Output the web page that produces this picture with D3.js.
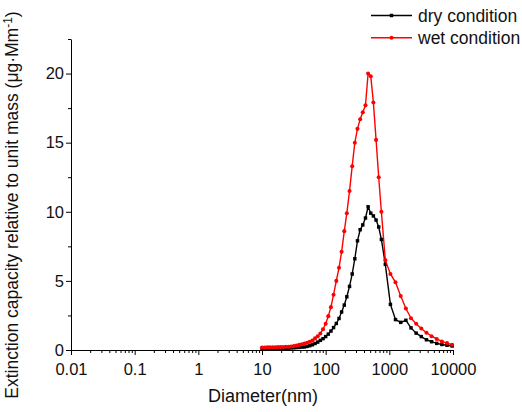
<!DOCTYPE html>
<html>
<head>
<meta charset="utf-8">
<script src="https://cdn.jsdelivr.net/npm/d3@7"></script>
<style>
  body { margin: 0; background: #fff; }
  svg { display: block; font-family: "Liberation Sans", Arial, sans-serif; }
</style>
</head>
<body>
<svg width="522" height="412"></svg>
<script>
// diameters (nm): SMPS channels then APS channels
const diameters = [10.0, 11.0, 12.1, 13.3, 14.7, 16.2, 17.8, 19.6, 21.5, 23.7,
  26.1, 28.7, 31.6, 34.8, 38.3, 42.2, 46.4, 51.1, 56.2, 61.9,
  68.1, 75.0, 82.5, 90.9, 100, 110, 121, 133, 147, 162,
  178, 196, 215, 237, 261, 287, 316, 348, 383, 422,
  464, 511, 562, 619, 681, 750,
  865, 1040, 1250, 1510, 1820, 2190, 2640, 3180, 3830, 4610, 5550, 6690, 8050, 9700];

const dryValues = [0.05, 0.05, 0.06, 0.06, 0.07, 0.08, 0.09, 0.10, 0.11, 0.12,
  0.13, 0.15, 0.16, 0.18, 0.19, 0.21, 0.22, 0.26, 0.31, 0.38,
  0.47, 0.57, 0.70, 0.82, 0.97, 1.15, 1.37, 1.62, 1.92, 2.28,
  2.75, 3.25, 3.85, 4.6, 5.5, 6.6, 7.9, 8.7, 9.05, 9.55,
  10.36, 9.9, 9.7, 9.4, 8.9, 8.0,
  6.2, 3.3, 2.2, 2.0, 2.15, 1.6, 1.22, 0.97, 0.74, 0.6, 0.48, 0.4, 0.34, 0.29];

const wetValues = [0.18, 0.18, 0.19, 0.19, 0.20, 0.20, 0.21, 0.21, 0.22, 0.23,
  0.24, 0.25, 0.28, 0.33, 0.37, 0.41, 0.46, 0.52, 0.59, 0.68,
  0.84, 1.0, 1.2, 1.5, 1.9, 2.45, 3.1, 4.0, 5.0, 5.95,
  7.1, 8.6, 9.9, 11.5, 13.3, 15.0, 16.0, 16.7, 17.2, 17.7,
  20.0, 19.8, 17.9, 15.2, 12.5, 10.0,
  6.5, 5.5, 4.9, 3.9, 3.0, 2.3, 1.9, 1.55, 1.25, 1.0, 0.8, 0.62, 0.5, 0.38];

const xTicks = [0.01, 0.1, 1, 10, 100, 1000, 10000];
const xTickLabels = ['0.01', '0.1', '1', '10', '100', '1000', '10000'];
const yTicks = [0, 5, 10, 15, 20];
const yMinorTicks = [2.5, 7.5, 12.5, 17.5, 22.5];
const seriesNames = ['dry condition', 'wet condition'];

const svg = d3.select('svg');
const margin = { top: 39, right: 69, bottom: 62, left: 71 };
const width = +svg.attr('width');
const height = +svg.attr('height');

const xScale = d3.scaleLog()
                 .domain([0.01, 10000])
                 .range([margin.left, width - margin.right]);
const yScale = d3.scaleLinear()
                 .domain([0, 22.5])
                 .range([height - margin.bottom, margin.top]);

// minor ticks 2..9 within each decade
const xMinor = [];
xTicks.slice(0, -1).forEach(t => {
  for (let m = 2; m <= 9; m++) xMinor.push(t * m);
});

// bottom axis
const gx = svg.append('g').attr('transform', `translate(0,${height - margin.bottom})`);
gx.call(d3.axisBottom(xScale).tickValues(xTicks)
          .tickFormat((d, i) => xTickLabels[i]).tickSize(5).tickSizeOuter(0).tickPadding(8));
gx.append('g').call(d3.axisBottom(xScale).tickValues(xMinor).tickFormat('').tickSize(3))
  .select('.domain').remove();

// left axis
const gy = svg.append('g').attr('transform', `translate(${margin.left},0)`);
gy.call(d3.axisLeft(yScale).tickValues(yTicks).tickSize(5).tickSizeOuter(0).tickPadding(2));
gy.append('g').call(d3.axisLeft(yScale).tickValues(yMinorTicks).tickFormat('').tickSize(3))
  .select('.domain').remove();

svg.selectAll('.tick text').attr('font-size', 16.5).attr('fill', '#111')
   .attr('font-family', '"Liberation Sans", Arial, sans-serif');
svg.selectAll('.domain, .tick line').attr('stroke', '#000').attr('stroke-width', 1);

// axis titles
svg.append('text')
   .attr('x', 263)
   .attr('y', 402)
   .attr('text-anchor', 'middle')
   .attr('font-size', 18)
   .attr('fill', '#111')
   .text('Diameter(nm)');

const yTitle = svg.append('text')
   .attr('transform', 'translate(18,205) rotate(-90)')
   .attr('text-anchor', 'middle')
   .attr('font-size', 17.5)
   .attr('fill', '#111');
yTitle.append('tspan').text('Extinction capacity relative to unit mass (μg·Mm');
yTitle.append('tspan').attr('dy', -6).attr('font-size', 12).text('-1');
yTitle.append('tspan').attr('dy', 6).text(')');

// series
const series = [
  { name: seriesNames[0], values: dryValues, color: '#000000', shape: d3.symbolSquare, size: 12 },
  { name: seriesNames[1], values: wetValues, color: '#ff0000', shape: d3.symbolCircle, size: 13 }
];

const line = d3.line()
               .x(d => xScale(d[0]))
               .y(d => yScale(d[1]));

series.forEach(s => {
  const pts = diameters.map((d, i) => [d, s.values[i]]);
  svg.append('path')
     .datum(pts)
     .attr('fill', 'none')
     .attr('stroke', s.color)
     .attr('stroke-width', 1.4)
     .attr('d', line);
  svg.append('g').selectAll('path').data(pts)
     .enter().append('path')
       .attr('transform', d => `translate(${xScale(d[0])},${yScale(d[1])})`)
       .attr('d', d3.symbol().type(s.shape).size(s.size))
       .attr('fill', s.color);
});

// legend
const legend = svg.append('g');
series.forEach((s, i) => {
  const y = 15.5 + i * 22.3;
  legend.append('line')
        .attr('x1', 371).attr('x2', 412).attr('y1', y).attr('y2', y)
        .attr('stroke', s.color).attr('stroke-width', 1.4);
  legend.append('path')
        .attr('transform', `translate(391.5,${y})`)
        .attr('d', d3.symbol().type(s.shape).size(s.size))
        .attr('fill', s.color);
  legend.append('text')
        .attr('x', 418).attr('y', y + 6)
        .attr('font-size', 17.5)
        .attr('fill', '#111')
        .text(s.name);
});
</script>
</body>
</html>
